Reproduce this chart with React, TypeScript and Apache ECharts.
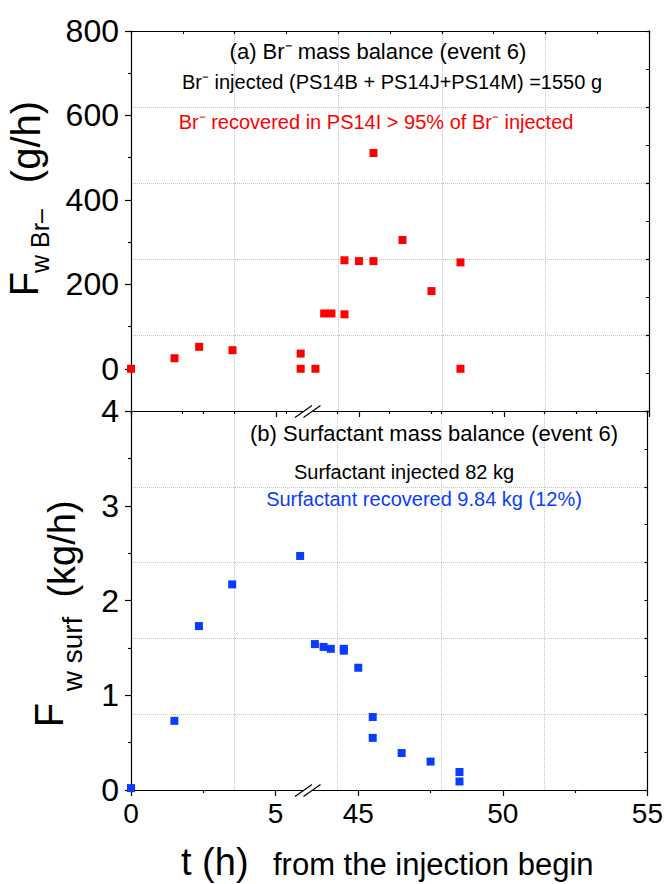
import React, { useEffect, useRef } from "react";
import * as echarts from "echarts";

// ---- data ----
const T_BR = [0, 1.5, 2.35, 3.5, 5.85, 5.85, 43.5, 43.8, 44.05, 44.5, 44.5, 45.0, 45.5, 45.5, 46.5, 47.5, 48.5, 48.5];
const BR = [0, 25, 52, 44, 36, 0, 0, 131, 131, 257, 129, 255, 511, 255, 305, 184, 252, 0];

const T_SURF = [0, 1.5, 2.35, 3.5, 5.85, 43.5, 43.8, 44.05, 44.5, 44.5, 45.0, 45.5, 45.5, 46.5, 47.5, 48.5, 48.5];
const SURF = [0.02, 0.73, 1.73, 2.17, 2.47, 1.54, 1.51, 1.49, 1.49, 1.47, 1.29, 0.77, 0.55, 0.39, 0.3, 0.19, 0.09];

const X_MAJOR_TICKS = [0, 5, 45, 50, 55];
const X_MINOR_TICKS = [2.5, 47.5, 52.5];
const Y_BR_TICKS = [0, 200, 400, 600, 800];
const Y_BR_MINOR = [100, 300, 500, 700];
const Y_BR_RANGE = [-100, 800];
const Y_SURF_RANGE = [0, 4];

// broken time axis: [0, SEG1_END] then [SEG2_START, 55]
const SEG1_END = 6.1;
const SEG2_START = 43.24;
const T_END = 55;
const toAxis = (t: number) => (t <= SEG1_END ? t : SEG1_END + (t - SEG2_START));
const fromAxis = (v: number) => (v <= SEG1_END + 1e-9 ? v : v - SEG1_END + SEG2_START);
const X_MAX = toAxis(T_END);

const FONT = "'Liberation Sans', Arial, sans-serif";
const RED = "#ff0000";
const BLUE = "#0a3cff";
const AX = { color: "#000", width: 1.2 };

function primaryX(gridIndex: number, showLabels: boolean) {
  const vals = X_MAJOR_TICKS.map(toAxis);
  return {
    type: "value", gridIndex, position: "bottom", min: 0, max: X_MAX,
    axisLine: { show: true, onZero: false, lineStyle: AX },
    axisTick: { show: true, customValues: vals, length: 6, inside: false, lineStyle: AX },
    axisLabel: {
      show: showLabels, customValues: vals, fontSize: 28, color: "#000", margin: 9, fontFamily: FONT,
      formatter: (v: number) => String(Math.round(fromAxis(v))),
    },
    splitLine: { show: false },
  };
}
function minorX(gridIndex: number) {
  return {
    type: "value", gridIndex, position: "bottom", min: 0, max: X_MAX,
    axisLine: { show: false, onZero: false },
    axisTick: { show: true, customValues: X_MINOR_TICKS.map(toAxis), length: 3, inside: false, lineStyle: AX },
    axisLabel: { show: false },
    splitLine: { show: false },
  };
}
const gridSplit = { show: true, showMinLine: false, showMaxLine: false, lineStyle: { color: "#c4c4c4", type: "dotted", width: 1 } };
function secondaryX(gridIndex: number) {
  return {
    type: "value", gridIndex, position: "top", min: 0, max: 10, interval: 2,
    axisLine: { show: true, onZero: false, lineStyle: AX },
    axisTick: { show: true, inside: true, length: 3, lineStyle: AX },
    minorTick: { show: true, splitNumber: 2, length: 3, lineStyle: { color: "#000", width: 1 } },
    axisLabel: { show: false },
    splitLine: gridSplit,
  };
}
function secondaryY(gridIndex: number) {
  return {
    type: "value", gridIndex, position: "right", min: 0, max: 10, interval: 2,
    axisLine: { show: true, onZero: false, lineStyle: AX },
    axisTick: { show: true, inside: true, length: 3, lineStyle: AX },
    minorTick: { show: true, splitNumber: 2, length: 3, lineStyle: { color: "#000", width: 1 } },
    axisLabel: { show: false },
    splitLine: gridSplit,
  };
}

function rotText(text: string, x: number, y: number, size: number, extra: any = {}) {
  return {
    type: "text", x, y, rotation: Math.PI / 2, z: 100,
    style: { text, fontSize: size, fontFamily: FONT, fill: "#000", align: "center", verticalAlign: "middle" },
    ...extra,
  };
}
function hText(text: string, x: number, y: number, size: number, color = "#000", align = "center") {
  return {
    type: "text", x, y, z: 100,
    style: { text, fontSize: size, fontFamily: FONT, fill: color, align, verticalAlign: "middle" },
  };
}
function breakMark(cx: number, cy: number) {
  return [
    { type: "polygon", z: 99, shape: { points: [[cx - 13, cy + 6.5], [cx - 4.5, cy + 6.5], [cx + 12.5, cy - 5.5], [cx + 4, cy - 5.5]] }, style: { fill: "#fff" } },
    { type: "line", z: 100, shape: { x1: cx - 13, y1: cy + 6.5, x2: cx + 4, y2: cy - 5.5 }, style: { stroke: "#000", lineWidth: 1.2 } },
    { type: "line", z: 100, shape: { x1: cx - 4.5, y1: cy + 6.5, x2: cx + 12.5, y2: cy - 5.5 }, style: { stroke: "#000", lineWidth: 1.2 } },
  ];
}

export default function App() {
  const ref = useRef<HTMLDivElement>(null);
  useEffect(() => {
    document.body.style.margin = "0";
    if (!ref.current) return;
    const chart = echarts.init(ref.current, null, { renderer: "svg" });
    const BRsup = "Br\u207B";
    chart.setOption({
      animation: false,
      backgroundColor: "#fff",
      grid: [
        { left: 131, top: 31, width: 518, height: 380 },
        { left: 131, top: 411, width: 518, height: 379 },
      ],
      xAxis: [primaryX(0, false), minorX(0), secondaryX(0), primaryX(1, true), minorX(1), secondaryX(1)],
      yAxis: [
        {
          type: "value", gridIndex: 0, position: "left", min: Y_BR_RANGE[0], max: Y_BR_RANGE[1],
          axisLine: { show: true, onZero: false, lineStyle: AX },
          axisTick: { show: true, customValues: Y_BR_TICKS, length: 6, lineStyle: AX },
          axisLabel: { customValues: Y_BR_TICKS, fontSize: 32, color: "#000", margin: 12, fontFamily: FONT },
          splitLine: { show: false },
        },
        {
          type: "value", gridIndex: 0, position: "left", min: Y_BR_RANGE[0], max: Y_BR_RANGE[1],
          axisLine: { show: false, onZero: false },
          axisTick: { show: true, customValues: Y_BR_MINOR, length: 3, lineStyle: AX },
          axisLabel: { show: false },
          splitLine: { show: false },
        },
        secondaryY(0),
        {
          type: "value", gridIndex: 1, position: "left", min: Y_SURF_RANGE[0], max: Y_SURF_RANGE[1], interval: 1,
          axisLine: { show: true, onZero: false, lineStyle: AX },
          axisTick: { show: true, length: 6, lineStyle: AX },
          minorTick: { show: true, splitNumber: 2, length: 3, lineStyle: { color: "#000", width: 1.2 } },
          axisLabel: { fontSize: 32, color: "#000", margin: 12, fontFamily: FONT },
          splitLine: { show: false },
        },
        secondaryY(1),
      ],
      series: [
        {
          type: "scatter", xAxisIndex: 0, yAxisIndex: 0, symbol: "rect", symbolSize: [8, 8],
          itemStyle: { color: RED, opacity: 1 }, z: 5,
          data: T_BR.map((t, i) => [toAxis(t), BR[i]]),
        },
        {
          type: "scatter", xAxisIndex: 3, yAxisIndex: 3, symbol: "rect", symbolSize: [8, 8],
          itemStyle: { color: BLUE, opacity: 1 }, z: 5,
          data: T_SURF.map((t, i) => [toAxis(t), SURF[i]]),
        },
      ],
      graphic: [
        hText("(a) " + BRsup + " mass balance (event 6)", 378, 51, 22),
        hText(BRsup + " injected (PS14B + PS14J+PS14M) =1550 g", 392, 82, 20),
        hText(BRsup + " recovered in PS14I > 95% of " + BRsup + " injected", 376, 122, 20, RED),
        hText("(b) Surfactant mass balance (event 6)", 434, 433, 22),
        hText("Surfactant injected 82 kg", 404, 472, 20),
        hText("Surfactant recovered 9.84 kg (12%)", 424, 499, 20, BLUE),
        rotText("F", 24, 284, 40),
        rotText("w Br\u2013", 40, 241, 25),
        rotText("(g/h)", 26, 142, 40),
        rotText("F", 49, 715, 40),
        rotText("w surf", 72, 654, 28),
        rotText("(kg/h)", 62, 549, 38),
        hText("t (h)", 181, 862, 38, "#000", "left"),
        hText("from the injection begin", 273, 864, 31, "#000", "left"),
        ...breakMark(308, 411),
        ...breakMark(308, 790),
      ],
    });
    return () => chart.dispose();
  }, []);
  return <div ref={ref} style={{ width: 666, height: 884 }} />;
}
